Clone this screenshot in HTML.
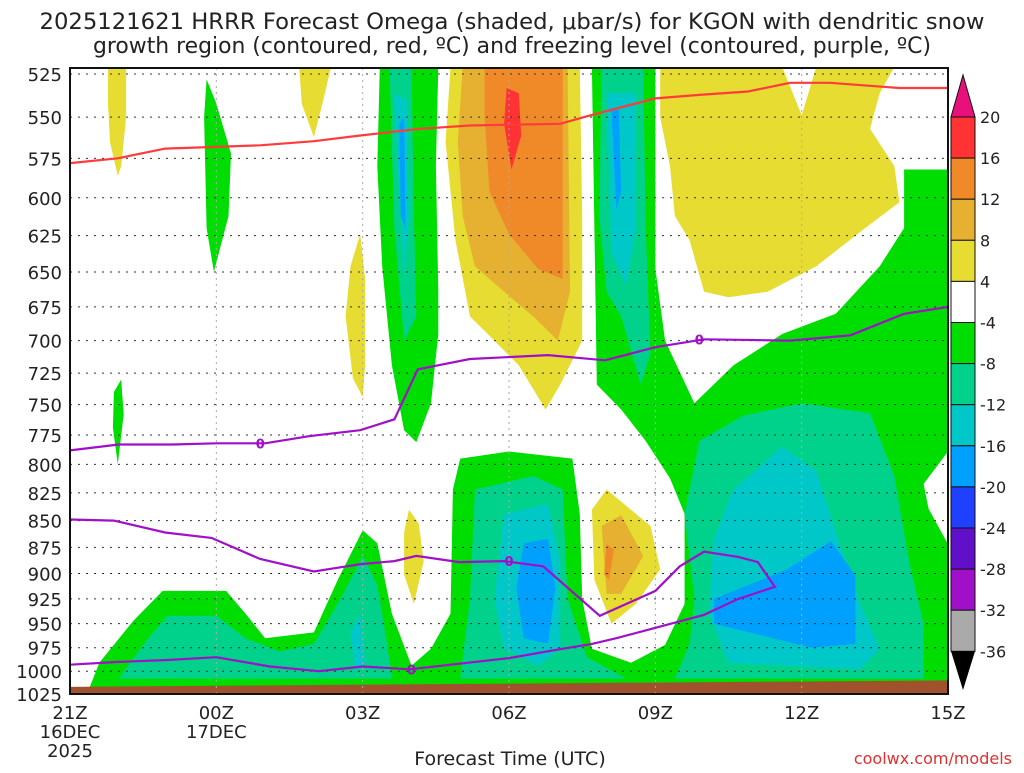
<!DOCTYPE html>
<html><head><meta charset="utf-8"><style>
body{margin:0;background:#fff;width:1024px;height:768px;overflow:hidden;font-family:"Liberation Sans","DejaVu Sans",sans-serif}
svg text{font-family:"DejaVu Sans","Liberation Sans",sans-serif}
</style></head><body>
<svg id="c" width="1024" height="768" xmlns="http://www.w3.org/2000/svg">
<text x="512" y="29" font-size="22" text-anchor="middle" fill="#222" textLength="945" lengthAdjust="spacingAndGlyphs">2025121621 HRRR Forecast Omega (shaded, μbar/s) for KGON with dendritic snow</text>
<text x="512" y="53" font-size="22" text-anchor="middle" fill="#222" textLength="838" lengthAdjust="spacingAndGlyphs">growth region (contoured, red, ºC) and freezing level (contoured, purple, ºC)</text>
<g id="fills"></g><g id="grid"></g><g id="lines"></g><g id="axes"></g><g id="cbar"></g>
<text x="510" y="765" font-size="19" text-anchor="middle" fill="#222">Forecast Time (UTC)</text>
<text x="1012" y="764" font-size="16" text-anchor="end" fill="#e03030">coolwx.com/models</text>
</svg>
<script>
const pTicks=[525,550,575,600,625,650,675,700,725,750,775,800,825,850,875,900,925,950,975,1000,1025];
const hTicks=[0,3,6,9,12,15,18];
const hLabels=[["21Z","16DEC","2025"],["00Z","17DEC"],["03Z"],["06Z"],["09Z"],["12Z"],["15Z"]];
const cbLevels=[20,16,12,8,4,-4,-8,-12,-16,-20,-24,-28,-32,-36];
const cbColors=["#ff3333","#f08a28","#e6b030","#e6dc32","#ffffff","#00dd00","#00d28c","#00c8c8","#00a0ff","#2040ff","#6010c8","#a010c8","#aaaaaa"];
const C={g:"#00dd00",t:"#00d28c",c:"#00c8c8",b:"#00a0ff",y:"#e6dc32",n:"#e6b030",o:"#f08a28",r:"#ff3333",w:"#ffffff"};
const regions=[
["g","green-lower",[[0.4,1018],[0.6,991],[1.3,947],[1.9,917],[3.2,917],[3.6,940],[4.0,965],[5.0,959],[5.5,905],[6.0,859],[6.3,871],[6.6,940],[7.0,994],[7.4,976],[7.8,940],[7.85,822],[8.0,795],[9.0,789],[10.3,795],[10.45,844],[10.5,925],[10.7,976],[11.5,991],[12.2,972],[12.6,930],[12.6,844],[12.3,812],[11.8,780],[11.3,754],[10.8,734],[10.7,521],[12.0,521],[12.0,648],[12.2,700],[12.8,749],[13.6,719],[14.6,695],[15.7,680],[16.6,646],[17.1,620],[17.1,582],[18,582],[18,789],[17.5,817],[17.6,839],[18,872],[18,1018]]],
["g","green-col-03z",[[6.35,521],[7.55,521],[7.5,580],[7.55,664],[7.55,695],[7.4,749],[7.1,781],[6.85,771],[6.6,719],[6.4,646],[6.3,580]]],
["g","green-top-00z",[[2.8,528],[3.0,542],[3.3,572],[3.25,612],[2.95,650],[2.8,620],[2.75,550]]],
["g","green-small-22z",[[0.9,740],[1.05,730],[1.1,758],[0.98,800],[0.88,769]]],
["t","teal-col-03z",[[6.55,521],[7.0,521],[7.05,612],[7.1,682],[6.85,700],[6.65,620]]],
["t","teal-col-08z",[[10.9,521],[11.75,521],[11.8,620],[11.9,710],[11.7,734],[11.3,682],[11.0,664],[10.85,612]]],
["t","teal-left",[[1.0,1008],[1.6,965],[2.0,942],[3.0,942],[3.6,965],[4.3,979],[5.0,971],[5.6,920],[6.0,883],[6.3,911],[6.5,971],[6.6,1008]]],
["t","teal-center",[[8.3,822],[9.5,810],[10.1,822],[10.2,925],[10.6,985],[11.4,1008],[8.0,1008],[8.2,925]]],
["t","teal-right",[[12.6,844],[12.9,780],[13.8,759],[15.0,749],[16.4,757],[16.9,810],[17.2,888],[17.5,950],[17.5,1008],[12.4,1008],[12.7,971],[12.8,925]]],
["c","cyan-col-03z",[[6.65,536],[6.9,540],[6.95,612],[6.85,650],[6.75,596]]],
["c","cyan-col-08z",[[11.0,536],[11.6,536],[11.6,620],[11.4,660],[11.1,636]]],
["c","cyan-left",[[5.75,960],[5.95,940],[6.05,991],[5.85,1001]]],
["c","cyan-center",[[8.9,844],[9.8,835],[10.05,888],[10.05,976],[9.6,994],[8.9,976],[8.7,925]]],
["c","cyan-right",[[13.2,867],[13.6,822],[14.6,785],[15.3,806],[15.7,861],[16.2,930],[16.6,976],[16.2,998],[13.5,991],[13.1,940]]],
["b","blue-col-03z",[[6.75,554],[6.85,550],[6.88,620],[6.78,612]]],
["b","blue-col-08z",[[11.1,546],[11.25,546],[11.3,596],[11.2,608]]],
["b","blue-center",[[9.3,871],[9.8,867],[9.95,914],[9.8,971],[9.3,965],[9.15,914]]],
["b","blue-right",[[13.2,925],[14.7,896],[15.6,869],[16.1,902],[16.1,971],[15.2,975],[13.2,950]]],
["y","yellow-top-22z",[[0.78,521],[1.15,521],[1.15,550],[1.05,580],[0.98,586],[0.82,565],[0.78,542]]],
["y","yellow-top-02z",[[4.7,521],[5.35,521],[5.2,539],[5.0,562],[4.75,542]]],
["y","yellow-03z",[[5.75,646],[5.95,624],[6.05,655],[6.05,719],[6.0,744],[5.8,729],[5.65,682]]],
["y","yellow-main",[[7.8,521],[10.45,521],[10.5,612],[10.5,700],[10.05,734],[9.75,754],[9.2,719],[8.7,700],[8.2,682],[7.9,628],[7.7,565]]],
["n","tan-main",[[8.05,521],[10.2,521],[10.25,664],[10.0,700],[9.5,682],[9.0,667],[8.3,646],[8.05,612],[7.95,565]]],
["o","orange-main",[[8.5,521],[10.1,521],[10.1,655],[9.6,648],[9.0,624],[8.6,596],[8.5,550]]],
["r","red-spot",[[8.95,533],[9.2,536],[9.25,561],[9.05,582],[8.9,554]]],
["y","yellow-right",[[12.1,521],[16.9,521],[16.6,536],[16.4,557],[16.9,580],[17.0,603],[16.3,620],[15.3,646],[14.3,664],[13.5,668],[13.0,664],[12.7,628],[12.4,612],[12.3,580],[12.1,550]]],
["w","white-notch-12z",[[14.6,521],[15.3,521],[15.0,549]]],
["y","yellow-04z",[[6.85,861],[6.95,840],[7.15,853],[7.25,888],[7.05,930],[6.85,901]]],
["y","yellow-08z",[[10.7,840],[11.0,822],[11.9,855],[12.1,896],[11.6,930],[11.1,950],[10.75,906]]],
["n","tan-08z",[[10.9,855],[11.3,845],[11.75,883],[11.3,920],[11.0,920]]],
["o","orange-08z",[[11.0,872],[11.15,877],[11.05,906],[10.95,901]]]
];
const redLine=[[0,578],[0.98,575],[1.95,569],[3.9,567],[5.0,564.5],[5.95,561],[7.17,557],[8.2,555],[10.05,554],[10.66,549],[12.0,539],[12.9,537],[13.9,535],[14.76,530],[15.58,530],[17.0,533],[18,533]];
const fz1=[[0,788],[1.0,783],[2.1,783],[3.0,782],[4.0,782],[4.9,776],[5.95,771],[6.65,762],[7.13,722],[8.2,714],[9.8,711],[10.97,715],[12.0,705],[13.0,699],[14.76,700],[16.0,696],[17.1,680],[18,675]];
const fz2=[[0,849],[0.9,850],[1.95,861],[2.9,866],[3.9,886],[5.0,898],[5.95,891],[6.65,888],[7.1,883],[7.98,889],[8.9,888],[9.7,893],[10.86,942],[12.0,917],[12.5,893],[13.0,879],[13.7,884],[14.1,889],[14.45,913],[13.7,925],[13.0,941],[12.1,953],[11.2,965],[10.7,971],[10.0,977],[9.0,986],[7.8,993],[6.97,998],[6.0,995],[5.1,1000],[4.1,995],[3.0,985],[2.0,988],[1.0,990],[0,993]];
const fzLabels=[[3.9,782],[12.9,699],[9.0,888],[7.0,998]];
const ground=[[0,1017],[18,1010]];

const X=h=>70+h*48.78, Y=p=>74+926.8*Math.log(p/525);
const NS="http://www.w3.org/2000/svg";
function mk(tag,parent){const e=document.createElementNS(NS,tag);document.getElementById(parent).appendChild(e);return e;}
const clip=mk("clipPath","fills");clip.setAttribute("id","pc");
const cr=document.createElementNS(NS,"rect");cr.setAttribute("x",70);cr.setAttribute("y",68);cr.setAttribute("width",878);cr.setAttribute("height",626);clip.appendChild(cr);
document.getElementById("fills").setAttribute("clip-path","url(#pc)");
regions.forEach(r=>{const e=mk("polygon","fills");


e.setAttribute("points",r[2].map(q=>X(q[0]).toFixed(1)+","+Y(q[1]).toFixed(1)).join(" "));e.setAttribute("fill",C[r[0]]);});
const gr=mk("polygon","fills");


gr.setAttribute("points",`${X(ground[0][0])},${Y(ground[0][1])} ${X(ground[1][0])},${Y(ground[1][1])} ${X(18)},${Y(1030)} ${X(0)},${Y(1030)}`);gr.setAttribute("fill","#a0522d");
pTicks.forEach(p=>{const l=mk("line","grid");


l.setAttribute("x1",70);l.setAttribute("x2",948);l.setAttribute("y1",Y(p));l.setAttribute("y2",Y(p));l.setAttribute("stroke","#333");l.setAttribute("stroke-dasharray","2,6");
const t=mk("text","axes");


t.setAttribute("x",62);t.setAttribute("y",Y(p)+7);t.setAttribute("font-size","18");t.setAttribute("text-anchor","end");t.setAttribute("fill","#222");t.textContent=p;});
hTicks.forEach((h,i)=>{if(i>0&&i<hTicks.length-1){const l=mk("line","grid");


l.setAttribute("x1",X(h));l.setAttribute("x2",X(h));l.setAttribute("y1",68);l.setAttribute("y2",694);l.setAttribute("stroke","#aaa");l.setAttribute("stroke-dasharray","2,4");}
hLabels[i].forEach((s,j)=>{const t=mk("text","axes");


t.setAttribute("x",X(h));t.setAttribute("y",719+j*19);t.setAttribute("font-size","18");t.setAttribute("text-anchor","middle");t.setAttribute("fill","#222");t.textContent=s;});});
function line(pts,col,name){const e=mk("polyline","lines");


e.setAttribute("points",pts.map(q=>X(q[0]).toFixed(1)+","+Y(q[1]).toFixed(1)).join(" "));e.setAttribute("fill","none");e.setAttribute("stroke",col);e.setAttribute("stroke-width","2.2");}
line(redLine,"#ff3b3b","dendritic-growth-line");
line(fz1,"#a010c8","freezing-level-upper");
line(fz2,"#a010c8","freezing-level-lower");
fzLabels.forEach(q=>{const t=mk("text","lines");


t.setAttribute("x",X(q[0]));t.setAttribute("y",Y(q[1])+5);t.setAttribute("font-size","13");t.setAttribute("font-weight","bold");t.setAttribute("text-anchor","middle");t.setAttribute("fill","#a010c8");t.textContent="0";});
const fr=mk("rect","axes");


fr.setAttribute("x",70);fr.setAttribute("y",68);fr.setAttribute("width",878);fr.setAttribute("height",626);fr.setAttribute("fill","none");fr.setAttribute("stroke","#111");fr.setAttribute("stroke-width","2");
const cbY=i=>117+i*41.1;
const tp=mk("polygon","cbar");


tp.setAttribute("points",`951,${cbY(0)} 975,${cbY(0)} 963,75`);tp.setAttribute("fill","#e8107a");tp.setAttribute("stroke","#111");
cbColors.forEach((c,i)=>{const r=mk("rect","cbar");


r.setAttribute("x",951);r.setAttribute("y",cbY(i));r.setAttribute("width",24);r.setAttribute("height",41.1);r.setAttribute("fill",c);r.setAttribute("stroke","#111");});
const bt=mk("polygon","cbar");


bt.setAttribute("points",`951,${cbY(13)} 975,${cbY(13)} 963,690`);bt.setAttribute("fill","#000");
cbLevels.forEach((v,i)=>{const t=mk("text","cbar");


t.setAttribute("x",980);t.setAttribute("y",cbY(i)+6);t.setAttribute("font-size","16");t.setAttribute("fill","#222");t.textContent=v;});
</script>
</body></html>
